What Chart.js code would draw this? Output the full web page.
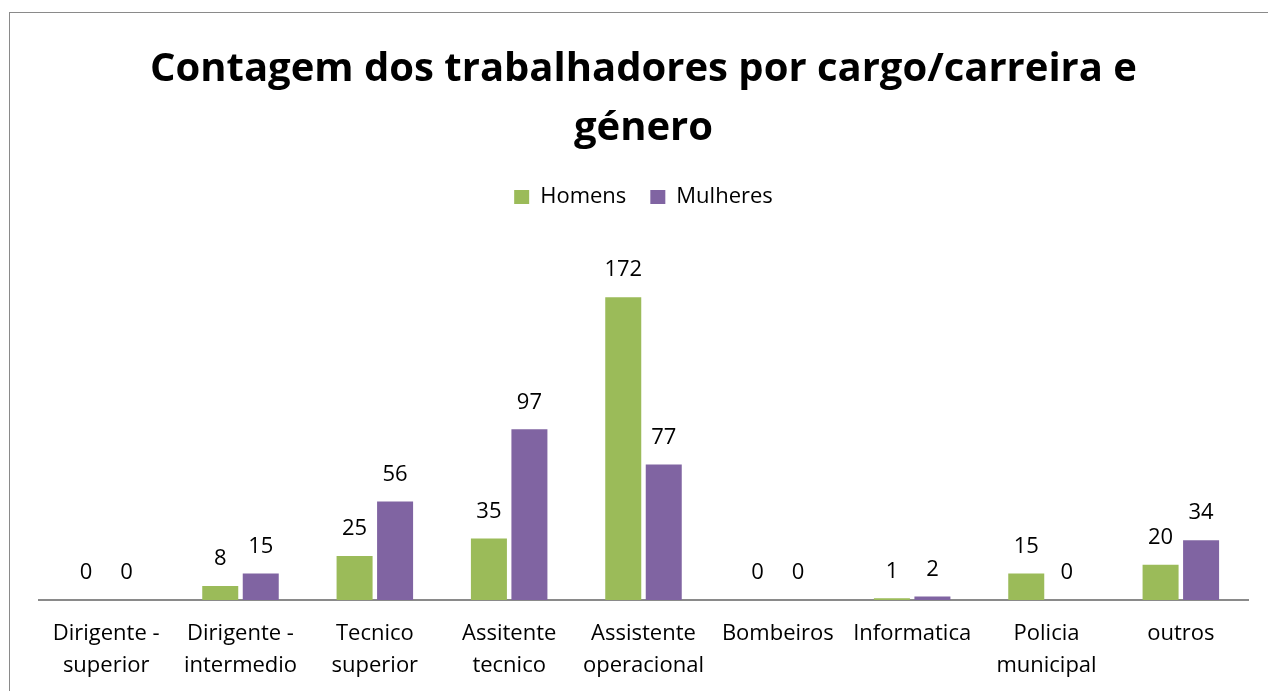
<!DOCTYPE html>
<html><head><meta charset="utf-8">
<script src="https://cdn.jsdelivr.net/npm/chart.js@4.4.1/dist/chart.umd.min.js"></script>
<style>
html,body{margin:0;padding:0;background:#fff;overflow:hidden;width:1268px;height:691px;}
#frame{position:absolute;left:9px;top:12px;width:1400px;height:800px;border:1px solid #8a8a8a;box-sizing:border-box;}
#wrap{position:absolute;left:0;top:0;width:1268px;height:708px;}
</style></head><body>
<div id="frame"></div>
<div id="wrap"><canvas id="c"></canvas></div>
<script>
const categories = [["Dirigente -","superior"],["Dirigente -","intermedio"],["Tecnico","superior"],["Assitente","tecnico"],["Assistente","operacional"],"Bombeiros","Informatica",["Policia","municipal"],"outros"];
const seriesNames = ["Homens","Mulheres"];
const homens = [0,8,25,35,172,0,1,15,20];
const mulheres = [0,15,56,97,77,0,2,0,34];
const titleLines = ["Contagem dos trabalhadores por cargo/carreira e","género"];
const colors = ["#9BBB59","#8064A2"];
const FONT = "'Open Sans', sans-serif";

const valueLabels = {
  id: 'valueLabels',
  afterDatasetsDraw(chart) {
    const ctx = chart.ctx;
    ctx.save();
    ctx.font = "22px " + FONT;
    ctx.fillStyle = "#000";
    ctx.textAlign = "center";
    ctx.textBaseline = "middle";
    chart.data.datasets.forEach((ds, i) => {
      const meta = chart.getDatasetMeta(i);
      meta.data.forEach((bar, j) => {
        ctx.fillText(String(ds.data[j]), bar.x, bar.y - 27);
      });
    });
    ctx.restore();
  }
};

new Chart(document.getElementById('c'), {
  type: 'bar',
  data: {
    labels: categories,
    datasets: [
      {label: seriesNames[0], data: homens, backgroundColor: colors[0], categoryPercentage: 0.603, barPercentage: 0.889},
      {label: seriesNames[1], data: mulheres, backgroundColor: colors[1], categoryPercentage: 0.603, barPercentage: 0.889}
    ]
  },
  options: {
    responsive: true,
    maintainAspectRatio: false,
    animation: false,
    layout: {padding: {left: 39, right: 20, top: 0, bottom: 8}},
    plugins: {
      title: {
        display: true,
        text: titleLines,
        color: '#000',
        font: {family: FONT, size: 40, weight: 'bold', lineHeight: '59px'},
        padding: {top: 40, bottom: 4}
      },
      legend: {
        display: true,
        position: 'top',
        labels: {
          color: '#000',
          font: {family: FONT, size: 22},
          boxWidth: 15, boxHeight: 14,
          padding: 24
        }
      },
      tooltip: {enabled: false}
    },
    scales: {
      x: {
        grid: {display: false, drawTicks: false},
        border: {display: true, color: '#8a8a8a', width: 2},
        ticks: {color: '#000', font: {family: FONT, size: 22, lineHeight: '32px'}, padding: 18, maxRotation: 0, autoSkip: false}
      },
      y: {
        display: false,
        min: 0, max: 217
      }
    }
  },
  plugins: [valueLabels]
});
</script>
</body></html>
